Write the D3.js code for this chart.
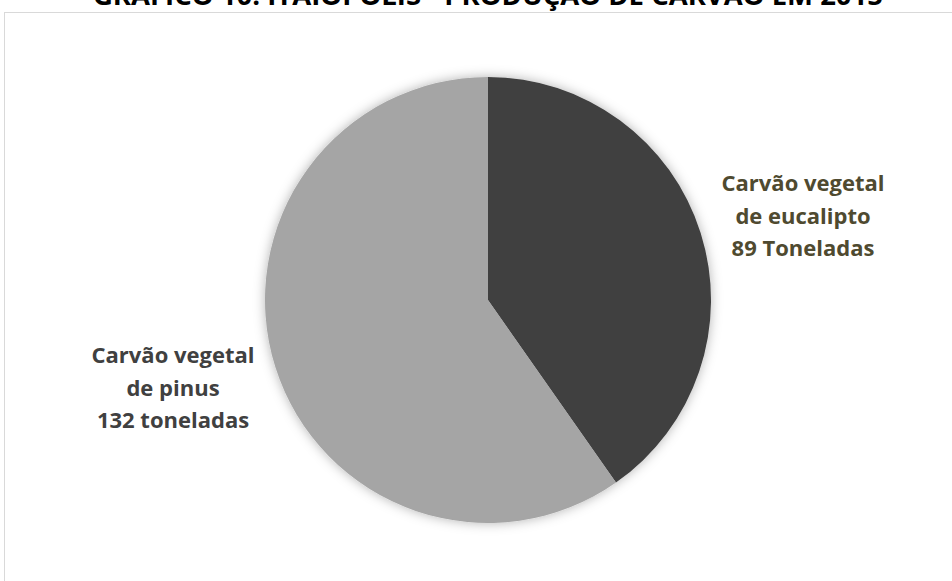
<!DOCTYPE html>
<html>
<head>
<meta charset="utf-8">
<script src="https://cdn.jsdelivr.net/npm/d3@7"></script>
<style>
  html, body { margin: 0; padding: 0; background: #fff; }
  svg { display: block; }
</style>
</head>
<body>
<div id="chart"></div>
<script>
const width = 952;
const height = 581;

const categories = ['Carvão vegetal de eucalipto', 'Carvão vegetal de pinus'];
const values = [89, 132];
const labelLines = [
  ['Carvão vegetal', 'de eucalipto', '89 Toneladas'],
  ['Carvão vegetal', 'de pinus', '132 toneladas']
];
const sliceColors = ['#404040', '#a5a5a5'];
const labelColors = ['#4f4a30', '#404040'];
const title = 'GRÁFICO 10: ITAIÓPOLIS - PRODUÇÃO DE CARVÃO EM 2015';

const cx = 488;
const cy = 300;
const radius = 223;
const fontFamily = '"Open Sans", Lato, sans-serif';

const svg = d3.select('#chart').append('svg')
  .attr('width', width)
  .attr('height', height);

// soft shadow round the pie
const defs = svg.append('defs');
const filter = defs.append('filter')
  .attr('id', 'shadow')
  .attr('x', '-20%').attr('y', '-20%')
  .attr('width', '140%').attr('height', '140%');
filter.append('feDropShadow')
  .attr('dx', 0).attr('dy', 0)
  .attr('stdDeviation', 6)
  .attr('flood-color', '#000')
  .attr('flood-opacity', 0.3);

// chart area border
svg.append('rect')
  .attr('x', 4.5)
  .attr('y', 12.5)
  .attr('width', width + 20)
  .attr('height', height + 20)
  .attr('fill', '#fff')
  .attr('stroke', '#d9d9d9');

svg.append('text')
  .attr('x', cx)
  .attr('y', 5)
  .attr('text-anchor', 'middle')
  .style('font-family', fontFamily)
  .style('font-weight', 'bold')
  .style('font-size', '27.5px')
  .attr('fill', '#000')
  .text(title);

const pie = d3.pie().sort(null).value(d => d);
const arc = d3.arc().innerRadius(0).outerRadius(radius);

const g = svg.append('g')
  .attr('transform', `translate(${cx},${cy})`);

g.append('g')
  .attr('filter', 'url(#shadow)')
  .selectAll('path')
  .data(pie(values))
  .enter()
  .append('path')
  .attr('d', arc)
  .attr('fill', (d, i) => sliceColors[i]);

// label centres, placed relative to the pie
const labelPos = [[315, -84], [-315, 88]];

labelLines.forEach(function (lines, i) {
  const t = svg.append('text')
    .attr('text-anchor', 'middle')
    .style('font-family', fontFamily)
    .style('font-weight', 'bold')
    .style('font-size', '22px')
    .attr('fill', labelColors[i]);
  lines.forEach(function (line, j) {
    t.append('tspan')
      .attr('x', cx + labelPos[i][0])
      .attr('y', cy + labelPos[i][1] + (j - 1) * 32.5)
      .attr('dy', '0.35em')
      .text(line);
  });
});
</script>
</body>
</html>
